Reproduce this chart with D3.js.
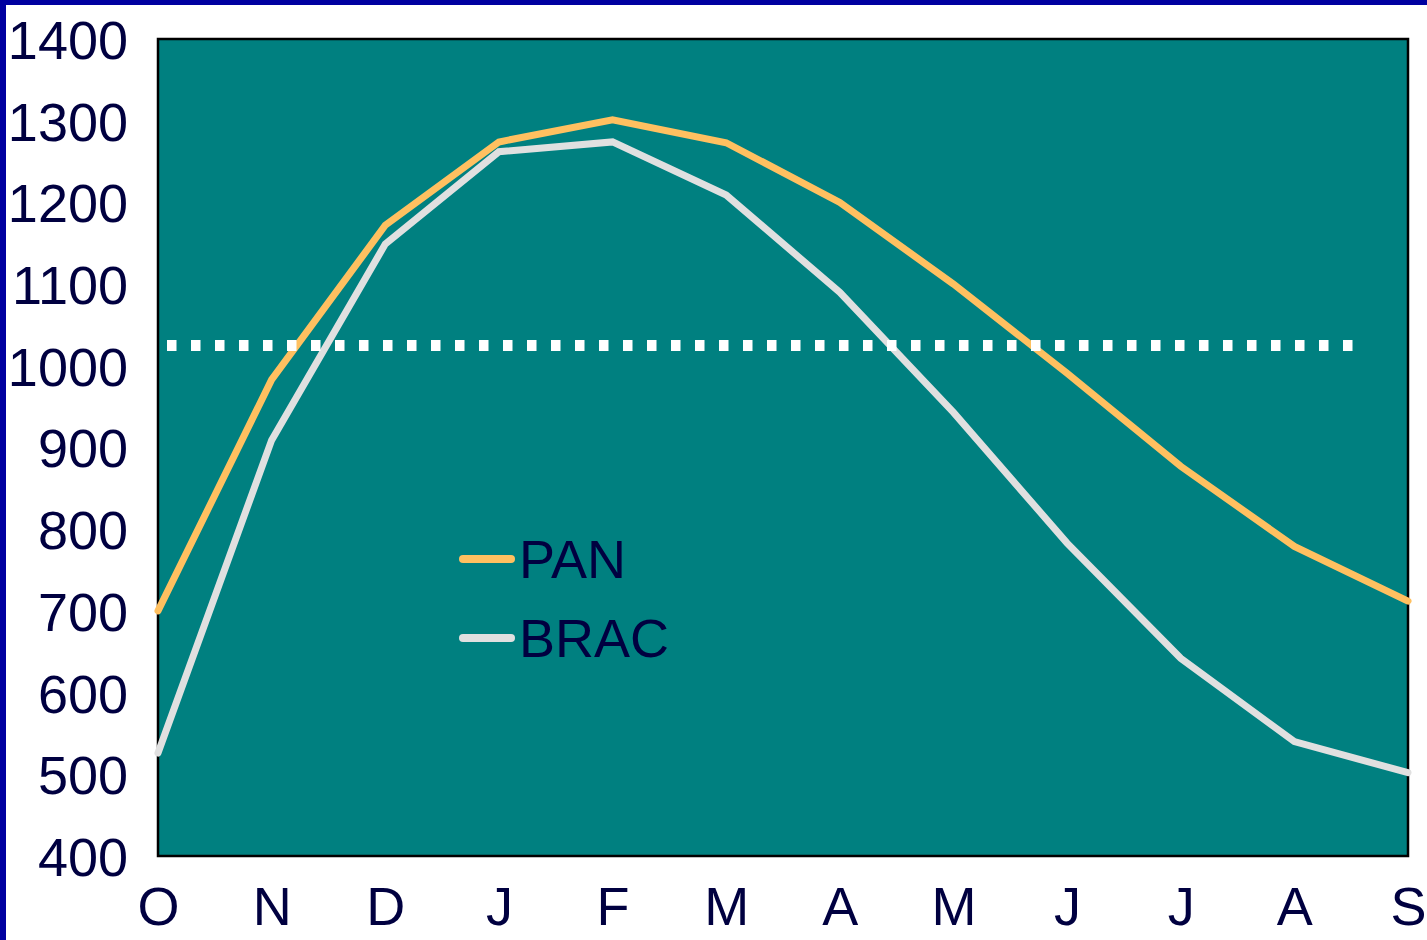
<!DOCTYPE html>
<html>
<head>
<meta charset="utf-8">
<script src="https://cdn.jsdelivr.net/npm/d3@7"></script>
<style>
  html, body { margin: 0; padding: 0; background: #ffffff; }
  svg { display: block; }
  text { font-family: "Liberation Sans", Arial, sans-serif; fill: #000040; }
</style>
</head>
<body>
<svg id="chart" width="1427" height="940"></svg>
<script>
// Months from October to September
const months = ["O", "N", "D", "J", "F", "M", "A", "M", "J", "J", "A", "S"];
const panValues = [700, 983, 1172, 1274, 1301, 1273, 1200, 1100, 991, 877, 779, 712];
const bracValues = [526, 909, 1149, 1262, 1274, 1209, 1090, 943, 783, 642, 540, 502];
const referenceLevel = 1025;
const yTicks = [400, 500, 600, 700, 800, 900, 1000, 1100, 1200, 1300, 1400];
const seriesNames = ["PAN", "BRAC"];
const seriesColors = ["#FFC060", "#E0E0E0"];

const svg = d3.select("#chart");
const W = 1427, H = 940;
const plot = { left: 158, right: 1408, top: 39, bottom: 856 };
const fontSize = 54;

// Page border (top and left edges)
svg.append("rect").attr("x", 0).attr("y", 0).attr("width", W).attr("height", 5).attr("fill", "#0000A0");
svg.append("rect").attr("x", 0).attr("y", 0).attr("width", 6).attr("height", H).attr("fill", "#0000A0");

const x = d3.scalePoint().domain(d3.range(months.length)).range([plot.left, plot.right]);
const y = d3.scaleLinear().domain([400, 1400]).range([plot.bottom, plot.top]);

// Plot background
svg.append("rect")
  .attr("x", plot.left).attr("y", plot.top)
  .attr("width", plot.right - plot.left).attr("height", plot.bottom - plot.top)
  .attr("fill", "#008080").attr("stroke", "#000000").attr("stroke-width", 2.5);

// Y axis labels
const yAxis = d3.axisLeft(y).tickValues(yTicks).tickFormat(d3.format("d")).tickSize(0).tickPadding(0);
const yg = svg.append("g").attr("transform", `translate(128,0)`).call(yAxis);
yg.select(".domain").remove();
yg.selectAll("text")
  .attr("font-size", fontSize).attr("dy", "0.36em")
  .style("font-family", '"Liberation Sans", Arial, sans-serif').attr("fill", "#000040");

// X axis labels
const xAxis = d3.axisBottom(x).tickFormat(i => months[i]).tickSize(0).tickPadding(0);
const xg = svg.append("g").attr("transform", `translate(0,925)`).call(xAxis);
xg.select(".domain").remove();
xg.selectAll("text")
  .attr("font-size", fontSize).attr("dy", 0).attr("y", 0)
  .style("font-family", '"Liberation Sans", Arial, sans-serif').attr("fill", "#000040");

// Series lines
const line = d3.line().x((d, i) => x(i)).y(d => y(d));
[panValues, bracValues].forEach((vals, k) => {
  svg.append("path")
    .datum(vals)
    .attr("d", line)
    .attr("fill", "none")
    .attr("stroke", seriesColors[k])
    .attr("stroke-width", 7)
    .attr("stroke-linejoin", "miter")
    .attr("stroke-linecap", "round");
});

// Dotted reference level
svg.append("line")
  .attr("x1", x(0) - 15).attr("x2", 1358)
  .attr("y1", y(referenceLevel)).attr("y2", y(referenceLevel))
  .attr("stroke", "#ffffff").attr("stroke-width", 11)
  .attr("stroke-dasharray", "9.5 14.5");

// Legend
const legend = svg.append("g").attr("transform", "translate(463,559)");
seriesNames.forEach((name, k) => {
  const g = legend.append("g").attr("transform", `translate(0,${k * 79})`);
  g.append("line").attr("x1", 0).attr("x2", 48).attr("y1", 0).attr("y2", 0)
    .attr("stroke", seriesColors[k]).attr("stroke-width", 8).attr("stroke-linecap", "round");
  g.append("text").attr("x", 56).attr("y", 19).attr("font-size", fontSize).text(name);
});
</script>
</body>
</html>
